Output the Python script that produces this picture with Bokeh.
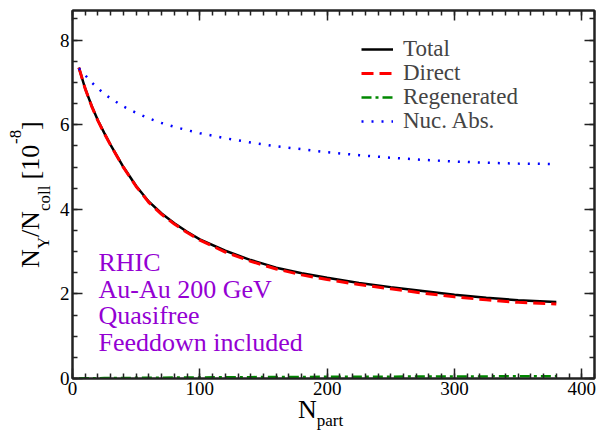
from bokeh.plotting import figure
from bokeh.models import (LinearAxis, SingleIntervalTicker, Legend, LegendItem,
                          Label, CustomJSTickFormatter, Range1d, Div)
from bokeh.layouts import row, column
from bokeh.embed import file_html
from bokeh.resources import INLINE

# Upsilon yield per binary collision vs. number of participants (RHIC Au-Au 200 GeV)
npart = [5, 10, 15, 20, 25, 30, 40, 50, 60, 70, 80, 90, 100, 120, 140, 160,
         180, 200, 225, 250, 275, 300, 325, 350, 380]
total = [7.35, 6.85, 6.45, 6.10, 5.80, 5.52, 5.00, 4.55, 4.18, 3.90, 3.67, 3.47,
         3.29, 3.02, 2.80, 2.62, 2.49, 2.38, 2.26, 2.16, 2.07, 1.98, 1.91, 1.85, 1.81]
direct = [7.35, 6.85, 6.44, 6.09, 5.79, 5.51, 4.99, 4.54, 4.16, 3.88, 3.65, 3.45,
          3.27, 2.99, 2.77, 2.59, 2.45, 2.34, 2.22, 2.12, 2.02, 1.93, 1.86, 1.80, 1.76]
regen = [0.0, 0.003, 0.005, 0.007, 0.009, 0.010, 0.013, 0.015, 0.018, 0.020, 0.022,
         0.024, 0.026, 0.029, 0.032, 0.035, 0.037, 0.040, 0.042, 0.044, 0.046, 0.048,
         0.050, 0.052, 0.054]
nuc_abs = [7.33, 7.17, 7.00, 6.86, 6.73, 6.62, 6.43, 6.28, 6.15, 6.04, 5.95, 5.87,
           5.80, 5.68, 5.58, 5.49, 5.42, 5.35, 5.28, 5.22, 5.17, 5.13, 5.10, 5.08, 5.07]

legend_labels = ["Total", "Direct", "Regenerated", "Nuc. Abs."]
info_lines = ["RHIC", "Au-Au 200 GeV", "Quasifree", "Feeddown included"]
x_ticks_major = 100
y_ticks_major = 2

SERIF = "Liberation Serif"
PURPLE = "#9400D3"

W, H = 603, 434
YDIV_W = 56          # strip holding the vertical axis title
XDIV_H = 30          # strip holding the horizontal axis title
PW, PH = W - YDIV_W, H - XDIV_H
FRAME_LEFT, FRAME_BOTTOM = 70, 378

p = figure(width=PW, height=PH, output_backend="svg", toolbar_location=None,
           x_range=Range1d(0, 410), y_range=Range1d(0, 8.7),
           min_border_left=FRAME_LEFT - YDIV_W, min_border_right=9,
           min_border_top=10, min_border_bottom=PH - FRAME_BOTTOM,
           x_axis_location=None, y_axis_location=None)
p.grid.visible = False
p.outline_line_color = "#222222"
p.outline_line_width = 2
p.background_fill_color = "white"
p.border_fill_color = "white"


def style_axis(ax, show_labels):
    ax.axis_line_width = 2
    ax.axis_line_color = "#222222"
    ax.major_tick_in = 10
    ax.major_tick_out = 0
    ax.minor_tick_in = 5
    ax.minor_tick_out = 0
    ax.major_tick_line_width = 1.5
    ax.minor_tick_line_width = 1.5
    ax.major_tick_line_color = "#222222"
    ax.minor_tick_line_color = "#222222"
    ax.major_label_text_font = SERIF
    ax.major_label_text_font_size = "19px"
    ax.major_label_text_color = "black"
    ax.major_label_standoff = 3
    if not show_labels:
        ax.formatter = CustomJSTickFormatter(code="return ''")
        ax.major_label_standoff = 0


for loc, show in (("below", True), ("above", False)):
    ax = LinearAxis(ticker=SingleIntervalTicker(interval=x_ticks_major, num_minor_ticks=10))
    style_axis(ax, show)
    p.add_layout(ax, loc)
for loc, show in (("left", True), ("right", False)):
    ax = LinearAxis(ticker=SingleIntervalTicker(interval=y_ticks_major, num_minor_ticks=4))
    style_axis(ax, show)
    p.add_layout(ax, loc)

r_total = p.line(npart, total, line_color="black", line_width=2.5)
r_direct = p.line(npart, direct, line_color="#ff0000", line_width=3, line_dash="12 6")
r_regen = p.line(npart, regen, line_color="#008800", line_width=2.5, line_dash="10 4 3 4")
r_nuc = p.line(npart, nuc_abs, line_color="#0000ff", line_width=2.5, line_dash="2 8")

# one legend box per entry so the row pitch can be set exactly
LEG_FONT = 23
item_h = 1.107 * LEG_FONT
row_centers = [49.5, 73, 97, 121]          # canvas y of each entry's centre
for lab, r, c in zip(legend_labels, [r_total, r_direct, r_regen, r_nuc], row_centers):
    leg = Legend(items=[LegendItem(label=lab, renderers=[r])],
                 location=(289, FRAME_BOTTOM - (c + item_h / 2)),
                 label_text_font=SERIF, label_text_font_size=f"{LEG_FONT}px",
                 glyph_width=32, glyph_height=22, label_height=22, label_standoff=10,
                 spacing=0, padding=0, margin=0,
                 border_line_color=None, background_fill_alpha=0)
    p.add_layout(leg, "center")

# descriptive text block inside the frame
for i, line in enumerate(info_lines):
    p.add_layout(Label(x=26, y=116 - i * 26.5, x_units="screen", y_units="screen",
                       text=line, text_font=SERIF, text_font_size="26px",
                       text_color=PURPLE, text_baseline="alphabetic"))

# Times-compatible advance widths (per em) for composing the axis titles
ADV = {"N": 0.722, "\u03a5": 0.722, "/": 0.278, "c": 0.444, "o": 0.5, "l": 0.278,
       " ": 0.25, "[": 0.333, "]": 0.333, "1": 0.5, "0": 0.5, "-": 0.333, "8": 0.5,
       "p": 0.5, "a": 0.444, "r": 0.333, "t": 0.278}
BASE = 0.8375        # baseline offset within a line box of line-height 1 (Liberation Serif)


def text_width(s, size):
    return sum(ADV.get(ch, 0.5) for ch in s) * size


def span(txt, size, left, top, rotate=False):
    rot = "transform-origin:0 0;transform:rotate(-90deg);" if rotate else ""
    return (f'<span style="position:absolute;left:{left:.1f}px;top:{top:.1f}px;{rot}'
            f'font-family:\'{SERIF}\';font-size:{size}px;line-height:{size}px;'
            f'white-space:pre;color:black;">{txt}</span>')


# vertical title: N_Y / N_coll [10^-8]
YF, YS = 26, 17
y_pieces = [("N", YF, 40), ("\u03a5", YS, 49), ("/", YF, 40), ("N", YF, 40),
            ("coll", YS, 50), (" [10", YF, 40), ("-8", YS, 21), ("]", YF, 40)]
cy = 268.0
y_html = []
for txt, size, bx in y_pieces:
    y_html.append(span(txt, size, bx - BASE * size, cy, rotate=True))
    cy -= text_width(txt, size)

# horizontal title: N_part
XF, XS = 26, 17
x_pieces = [("N", XF, 419), ("part", XS, 426)]
cx = 298.0
x_html = []
for txt, size, by in x_pieces:
    x_html.append(span(txt, size, cx, by - PH - BASE * size))
    cx += text_width(txt, size)

box_style = {"position": "relative", "overflow": "visible", "z-index": "2"}
ydiv = Div(text="".join(y_html), width=YDIV_W, height=PH, margin=0, styles=box_style)
xdiv = Div(text="".join(x_html), width=W, height=XDIV_H, margin=0, styles=box_style)

layout = column(row(ydiv, p, spacing=0), xdiv, spacing=0)

open("out.html", "w").write(file_html(layout, INLINE))
